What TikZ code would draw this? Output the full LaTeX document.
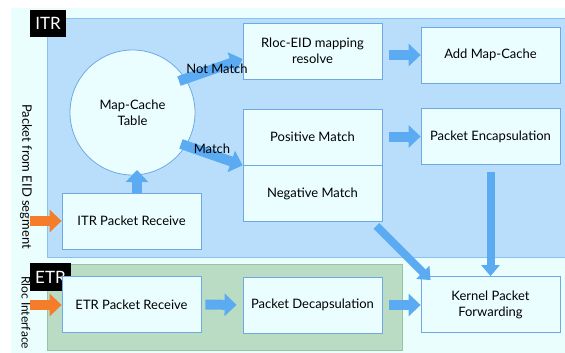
\documentclass[tikz,border=0pt]{standalone}
\usepackage{fontspec}
\setmainfont{Lato}
\usetikzlibrary{arrows.meta}
\definecolor{bgc}{HTML}{EBFEFE}
\definecolor{itrc}{HTML}{B9DEFB}
\definecolor{itrb}{HTML}{8CC0EE}
\definecolor{etrc}{HTML}{BADCC4}
\definecolor{etrb}{HTML}{95C4A0}
\definecolor{boxf}{HTML}{EBFEFF}
\definecolor{boxb}{HTML}{6EA9E4}
\definecolor{arrc}{HTML}{5AABF2}
\definecolor{orac}{HTML}{F47C2A}
\tikzset{
  stepbox/.style={draw=boxb, fill=boxf, line width=0.8pt, minimum width=139pt, minimum height=56pt, inner sep=0pt, align=center, font=\fontsize{13}{16}\selectfont},
  tagbox/.style={fill=black, text=white, inner sep=0pt, font=\fontsize{17}{19}\selectfont},
  fatarrow/.style={draw=arrc, line width=10pt, -{Triangle[width=22pt,length=12pt]}},
  thinarrow/.style={draw=arrc, line width=8pt, -{Triangle[width=18pt,length=11pt]}},
  orarrow/.style={draw=orac, line width=10pt, -{Triangle[width=22pt,length=12pt]}},
  sidetext/.style={rotate=-90, font=\fontsize{13}{15}\selectfont, inner sep=0pt},
  lbl/.style={font=\fontsize{13}{15}\selectfont, inner sep=1pt}
}
\begin{document}
\begin{tikzpicture}[x=1pt,y=-1pt]
\useasboundingbox (0,0) rectangle (565,353);
\fill[bgc] (11,8) rectangle (565,353);
% ITR region
\filldraw[fill=itrc, draw=itrb, line width=0.8pt] (47,18) rectangle (566,257);
% ETR region
\filldraw[fill=etrc, draw=etrb, line width=0.8pt] (47,264) rectangle (402,350);
\node[tagbox, minimum width=36pt, minimum height=27pt] (itrtag) at (48,23.5) {ITR};
\node[tagbox, minimum width=41pt, minimum height=28pt] (etrtag) at (50.5,277) {ETR};
% side texts
\node[sidetext, anchor=west] (side1) at (26,104) {Packet from EID segment};
\node[sidetext, anchor=west, font=\fontsize{12}{14}\selectfont] (side2) at (26,276) {Rloc Interface};
% boxes
\node[circle, draw=boxb, fill=boxf, line width=0.8pt, minimum size=125pt, inner sep=0pt, align=center, font=\fontsize{13}{16}\selectfont] (mc) at (132.5,112.5) {Map-Cache\\Table};
\node[stepbox] (rloc) at (312.5,51) {Rloc-EID mapping\\resolve};
\node[stepbox] (addmc) at (490.5,55) {Add Map-Cache};
\node[stepbox] (pos) at (312.5,137) {Positive Match};
\node[stepbox] (neg) at (312.5,193.5) {Negative Match};
\node[stepbox] (enc) at (490.5,136.5) {Packet Encapsulation};
\node[stepbox] (itrr) at (131.5,221) {ITR Packet Receive};
\node[stepbox] (etrr) at (131.5,304.5) {ETR Packet Receive};
\node[stepbox] (dec) at (312.5,305) {Packet Decapsulation};
\node[stepbox] (kern) at (490.5,304.5) {Kernel Packet\\Forwarding};
% arrows
\draw[fatarrow] ([xshift=-8pt]mc.30) -- (rloc.west |- 0,59);
\draw[fatarrow] ([xshift=-6pt]mc.-30) -- (pos.south west);
\draw[fatarrow] (itrr.north -| 137,0) -- (137,170);
\draw[fatarrow, shorten <=7pt] (rloc.east |- addmc.west) -- (addmc.west);
\draw[fatarrow, shorten <=7pt] (pos.east |- enc.west) -- (enc.west);
\draw[thinarrow, shorten <=7pt] (enc.south) -- (kern.north);
\draw[thinarrow] ([xshift=-6pt,yshift=-4pt]neg.south east) -- ([xshift=10pt,yshift=-4pt]kern.north west);
\draw[fatarrow, shorten <=4pt, shorten >=6pt] (etrr.east) -- (dec.west);
\draw[fatarrow, shorten <=7pt] (dec.east) -- (kern.west |- dec.east);
\coordinate (o1) at (30,221);
\coordinate (o2) at (30,305);
\draw[orarrow] (o1) -- (itrr.west);
\draw[orarrow] (o2) -- (etrr.west |- o2);
% labels
\node[lbl] (nm) at (217,69) {Not Match};
\node[lbl] (m) at (212,149) {Match};
\end{tikzpicture}
\end{document}
